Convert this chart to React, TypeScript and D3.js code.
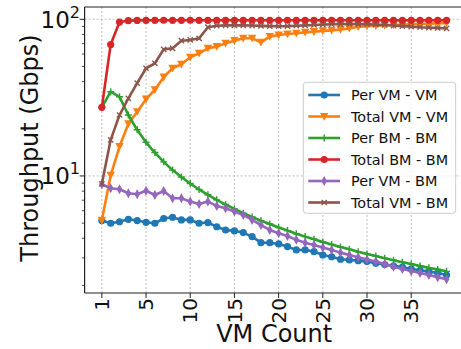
import React from 'react';
import * as d3 from 'd3';

// VM count index (plotted at position index), x tick positions and labels
const positions = [0, 1, 2, 3, 4, 5, 6, 7, 8, 9, 10, 11, 12, 13, 14, 15, 16, 17, 18, 19, 20, 21, 22, 23, 24, 25, 26, 27, 28, 29, 30, 31, 32, 33, 34, 35, 36, 37, 38, 39];
const xTickPositions = [0, 5, 10, 15, 20, 25, 30, 35];
const xTickLabels = ['1', '5', '10', '15', '20', '25', '30', '35'];
const yMajorTicks = [10, 100];
const yMinorTicks = [2, 3, 4, 5, 6, 7, 8, 9, 20, 30, 40, 50, 60, 70, 80, 90];

const perVmVm = [5.19, 4.99, 5.1, 5.29, 5.19, 5.06, 4.99, 5.35, 5.45, 5.24, 5.24, 4.99, 5.04, 4.74, 4.52, 4.46, 4.35, 4.1, 3.75, 3.75, 3.68, 3.54, 3.37, 3.37, 3.29, 3.13, 3.05, 2.94, 2.91, 2.88, 2.84, 2.77, 2.72, 2.67, 2.62, 2.55, 2.5, 2.45, 2.4, 2.33];
const totalVmVm = [5.2, 10.1, 15.4, 21.5, 25.7, 30.9, 35.5, 42.7, 48.7, 51.6, 57.2, 60.6, 65.3, 66.9, 70.3, 73, 75.6, 75.6, 71.3, 77.5, 79.4, 80.5, 81.4, 82.5, 83.3, 84.3, 85, 86, 87.5, 89.5, 90.5, 91, 91.5, 92, 92.5, 93, 93.4, 93.8, 94.2, 94.6];
const perBmBm = [27.4, 34.5, 32, 24.5, 19.7, 16.4, 14.1, 12.3, 10.9, 9.85, 8.95, 8.2, 7.58, 7.04, 6.57, 6.16, 5.79, 5.47, 5.18, 4.93, 4.69, 4.48, 4.28, 4.1, 3.94, 3.79, 3.65, 3.52, 3.4, 3.28, 3.18, 3.08, 2.98, 2.9, 2.81, 2.74, 2.66, 2.59, 2.53, 2.46];
const totalBmBm = [27.4, 69, 96, 98, 98.4, 98.5, 98.5, 98.6, 98.5, 98.5, 98.6, 98.5, 98.5, 98.6, 98.5, 98.5, 98.5, 98.6, 98.5, 98.5, 98.5, 98.6, 98.5, 98.5, 98.5, 98.6, 98.5, 98.5, 98.5, 98.6, 98.5, 98.5, 98.5, 98.6, 98.5, 98.5, 98.5, 98.6, 98.5, 98.5];
const perVmBm = [8.85, 8.34, 8.22, 7.76, 7.65, 8.05, 7.56, 8.02, 7.21, 7.21, 6.86, 6.63, 6.86, 6.44, 6.22, 5.92, 5.64, 5.24, 4.86, 4.52, 4.31, 4.14, 3.91, 3.75, 3.63, 3.49, 3.37, 3.24, 3.13, 3.03, 2.93, 2.84, 2.74, 2.63, 2.55, 2.47, 2.4, 2.33, 2.26, 2.19];
const totalVmBm = [8.9, 17, 24.5, 31.3, 39.1, 48.7, 52.4, 64.3, 65.3, 73, 73.8, 75.6, 89, 91, 91.5, 91.5, 91.5, 91.2, 90.8, 90.5, 90.3, 90.5, 91, 91.5, 92, 92.5, 93, 93.2, 93.3, 93.2, 93, 92.5, 92, 91.2, 90.5, 89.8, 89, 88.5, 88, 87.5];

const seriesNames = ['Per VM - VM', 'Total VM - VM', 'Per BM - BM', 'Total BM - BM', 'Per VM - BM', 'Total VM - BM'];
const seriesValues = [perVmVm, totalVmVm, perBmBm, totalBmBm, perVmBm, totalVmBm];
const seriesColors = ['#1f77b4', '#ff7f0e', '#2ca02c', '#d62728', '#9467bd', '#8c564b'];
const seriesMarkers = ['o', 'v', '+', 'o', 'd', 'x'];

const W = 461;
const H = 349;
const FONT = 'DejaVu Sans, sans-serif';

const Marker = ({ kind, x, y, color }: { kind: string; x: number; y: number; color: string }) => {
  switch (kind) {
    case 'o':
      return <circle cx={x} cy={y} r={3.6} fill={color} />;
    case 'v':
      return <path d={`M${x - 4.2},${y - 3.6}L${x + 4.2},${y - 3.6}L${x},${y + 4.2}Z`} fill={color} />;
    case '+':
      return <path d={`M${x - 3.5},${y}H${x + 3.5}M${x},${y - 3.5}V${y + 3.5}`} stroke={color} strokeWidth={1.4} />;
    case 'd':
      return <path d={`M${x},${y - 5}L${x + 2.8},${y}L${x},${y + 5}L${x - 2.8},${y}Z`} fill={color} />;
    case 'x':
      return <path d={`M${x - 2.6},${y - 2.6}L${x + 2.6},${y + 2.6}M${x - 2.6},${y + 2.6}L${x + 2.6},${y - 2.6}`} stroke={color} strokeWidth={1.4} />;
    default:
      return null;
  }
};

export default function App() {
  const left = 84.6;
  const right = 463.8;
  const top = 7;
  const bottom = 293;

  const x = d3.scaleLinear().domain([-1.95, 40.95]).range([left, right]);
  const y = d3.scaleLog().domain([1.79, 119.8]).range([bottom, top]);

  const line = d3
    .line<number>()
    .x((_, i) => x(positions[i]))
    .y((d) => y(d));

  const legendX = 303.3;
  const legendY = 82.3;
  const legendRowH = 21.5;

  return (
    <div style={{ position: 'absolute', left: 0, top: 0 }}>
      <svg width={W} height={H} style={{ display: 'block', background: '#fff' }} fontFamily={FONT}>
        <defs>
          <clipPath id="plotArea">
            <rect x={left} y={top} width={right - left} height={bottom - top} />
          </clipPath>
        </defs>

        {/* grid */}
        {xTickPositions.map((p) => (
          <line key={`gx${p}`} x1={x(p)} x2={x(p)} y1={top} y2={bottom} stroke="#b0b0b0" strokeWidth={0.8} strokeDasharray="2,2" />
        ))}
        {yMajorTicks.map((t) => (
          <line key={`gy${t}`} x1={left} x2={right} y1={y(t)} y2={y(t)} stroke="#b0b0b0" strokeWidth={0.8} strokeDasharray="2,2" />
        ))}

        {/* series */}
        <g clipPath="url(#plotArea)">
          {seriesValues.map((vals, s) => (
            <g key={seriesNames[s]}>
              <path d={line(vals) || ''} fill="none" stroke={seriesColors[s]} strokeWidth={2.6} strokeLinejoin="round" />
              {vals.map((v, i) => (
                <Marker key={i} kind={seriesMarkers[s]} x={x(positions[i])} y={y(v)} color={seriesColors[s]} />
              ))}
            </g>
          ))}
        </g>

        {/* spines */}
        <line x1={left} x2={left} y1={top} y2={bottom} stroke="#222" strokeWidth={1.2} />
        <line x1={left} x2={W} y1={bottom} y2={bottom} stroke="#222" strokeWidth={1.2} />
        <line x1={left} x2={W} y1={top} y2={top} stroke="#222" strokeWidth={1.2} />

        {/* y ticks */}
        {yMinorTicks.map((t) => (
          <line key={`ym${t}`} x1={left - 2.8} x2={left} y1={y(t)} y2={y(t)} stroke="#222" strokeWidth={0.8} />
        ))}
        {yMajorTicks.map((t) => (
          <g key={`yt${t}`}>
            <line x1={left - 5} x2={left} y1={y(t)} y2={y(t)} stroke="#222" strokeWidth={1} />
            <text x={80} y={y(t) + 8.3} textAnchor="end" fontSize={23} fill="#111">
              10
              <tspan fontSize={16} dy={-10}>{Math.round(Math.log10(t))}</tspan>
            </text>
          </g>
        ))}

        {/* x ticks */}
        {xTickPositions.map((p, i) => (
          <g key={`xt${p}`}>
            <line x1={x(p)} x2={x(p)} y1={bottom} y2={bottom + 5} stroke="#222" strokeWidth={1} />
            <text
              transform={`translate(${x(p)},${bottom + 5}) rotate(-90)`}
              textAnchor="end"
              dy="0.36em"
              fontSize={20}
              fill="#111"
            >
              {xTickLabels[i]}
            </text>
          </g>
        ))}

        {/* axis labels */}
        <text x={(left + right) / 2} y={342} textAnchor="middle" fontSize={24} fill="#111">
          VM Count
        </text>
        <text transform={`translate(38,148) rotate(-90)`} textAnchor="middle" fontSize={24} fill="#111">
          Throughput (Gbps)
        </text>

        {/* legend */}
        <rect x={legendX} y={legendY} width={152.4} height={131} rx={3} fill="#fff" fillOpacity={0.8} stroke="#cccccc" strokeWidth={1} />
        {seriesNames.map((name, s) => {
          const cy = legendY + 12.7 + s * legendRowH;
          return (
            <g key={`lg${name}`}>
              <line x1={308.3} x2={340} y1={cy} y2={cy} stroke={seriesColors[s]} strokeWidth={2.6} />
              <Marker kind={seriesMarkers[s]} x={324.2} y={cy} color={seriesColors[s]} />
              <text x={351} y={cy} dy="0.36em" fontSize={14.4} fill="#111">
                {name}
              </text>
            </g>
          );
        })}
      </svg>
    </div>
  );
}
